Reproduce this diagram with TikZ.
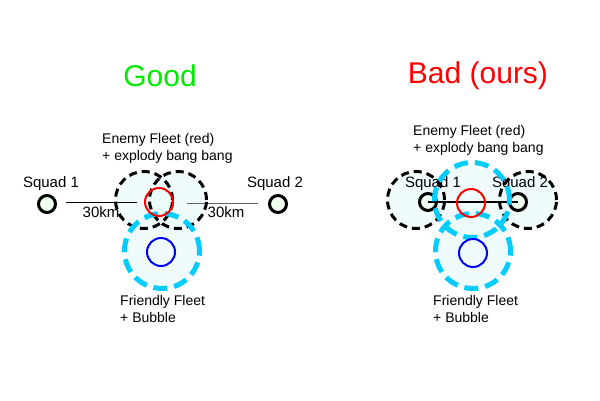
\documentclass[tikz,border=0pt]{standalone}
\usepackage{fontspec}
\setmainfont{Liberation Sans}
\usepackage{tikz}

\definecolor{bubblecyan}{RGB}{0,204,255}
\definecolor{zonefill}{RGB}{235,252,252}
\definecolor{squadfill}{RGB}{240,255,240}
\definecolor{goodgreen}{RGB}{0,235,0}

\tikzset{
  lbl/.style={font=\fontsize{14}{17}\selectfont, inner sep=0pt},
  biglbl/.style={font=\fontsize{15}{17}\selectfont, inner sep=0pt},
  ttl/.style={font=\fontsize{30}{32}\selectfont, inner sep=0pt},
  squad/.style={circle, draw, line width=3pt, fill=squadfill, inner sep=0pt, minimum size=17pt},
  fleet/.style={circle, line width=2pt, inner sep=0pt, minimum size=28pt},
  blastzone/.style={circle, fill=zonefill, fill opacity=0.7, inner sep=0pt, minimum size=57pt},
  bubble/.style={circle, fill=zonefill, fill opacity=0.7, inner sep=0pt, minimum size=75pt},
  blastline/.style={line width=3pt, dash pattern=on 8pt off 5pt},
  bubbleline/.style={bubblecyan, line width=5pt, dash pattern=on 14pt off 7pt}
}

\begin{document}
\begin{tikzpicture}[x=1pt,y=-1pt]
\useasboundingbox[fill=white] (0,0) rectangle (600,400);

% zones first, outlines later
\node[blastzone] (gzone1) at (144,200) {};
\node[blastzone] (gzone2) at (178,200) {};
\node[bubble] (gbubble) at (162,251) {};
\node[blastzone] (bzone1) at (416,200) {};
\node[blastzone] (bzone2) at (528,200) {};
\node[bubble] (bbubble1) at (472,200) {};
\node[bubble] (bbubble2) at (473,251) {};

% good layout
\node[ttl, goodgreen] (goodttl) at (160,76) {Good};
\node[lbl, align=left, anchor=west] (genemytxt) at (102,148) {Enemy Fleet (red)\\+ explody bang bang};
\node[biglbl] (gsq1txt) at (51,184) {Squad 1};
\node[biglbl] (gsq2txt) at (275,184) {Squad 2};
\node[biglbl] (gdist1) at (101,212) {30km};
\node[biglbl] (gdist2) at (226,212) {30km};
\node[lbl, align=left, anchor=west] (gfriendtxt) at (120,309) {Friendly Fleet\\+ Bubble};

\node[squad] (gsq1) at (47,204) {};
\node[squad] (gsq2) at (278,204) {};
\coordinate (gl1a) at (66,202);
\coordinate (gl1b) at (137,202);
\coordinate (gl2a) at (187,203);
\coordinate (gl2b) at (258,203);
\draw[line width=1pt] (gl1a) -- (gl1b);
\draw[line width=1pt, black!60] (gl2a) -- (gl2b);

\draw[blastline] (gzone1.center) circle[radius=28.5pt];
\draw[blastline] (gzone2.center) circle[radius=28.5pt];
\draw[bubbleline] (gbubble.center) circle[radius=37.5pt];
\node[fleet, draw=red] (genemy) at (159,202) {};
\node[fleet, draw=blue] (gfriend) at (161,252) {};

% bad layout
\node[ttl, red] (badttl) at (478,76) {Bad (ours)};
\node[lbl, align=left, anchor=west] (benemytxt) at (413,140) {Enemy Fleet (red)\\+ explody bang bang};
\node[biglbl] (bsq1txt) at (433,184) {Squad 1};
\node[biglbl] (bsq2txt) at (520,184) {Squad 2};
\node[lbl, align=left, anchor=west] (bfriendtxt) at (433,309) {Friendly Fleet\\+ Bubble};

\draw[blastline] (bzone1.center) circle[radius=28.5pt];
\draw[blastline] (bzone2.center) circle[radius=28.5pt];
\node[squad] (bsq1) at (428,202) {};
\node[squad] (bsq2) at (518,202) {};
\draw[line width=2pt] (bsq1.center) -- (bsq2.center);
\draw[bubbleline] (bbubble1.center) circle[radius=37.5pt];
\draw[bubbleline] (bbubble2.center) circle[radius=37.5pt];
\node[fleet, draw=red] (benemy) at (471,203) {};
\node[fleet, draw=blue] (bfriend) at (473,253) {};
\end{tikzpicture}
\end{document}
